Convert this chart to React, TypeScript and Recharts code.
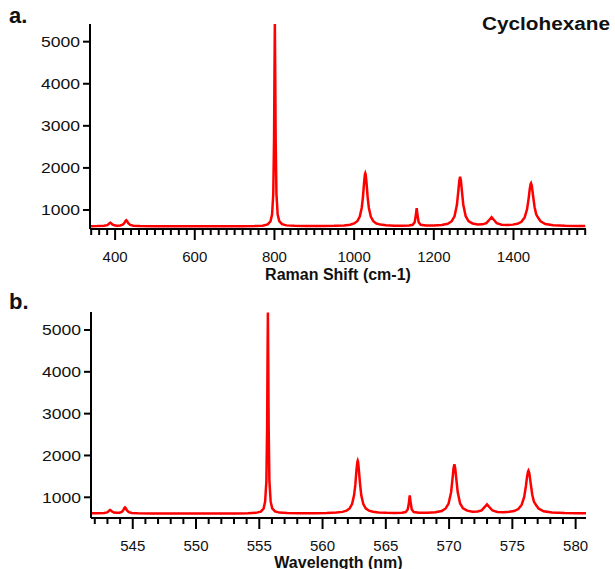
import { LineChart, Line, XAxis, YAxis } from "recharts";

// Cyclohexane Raman spectrum (532 nm excitation)
const ramanShift = [
  337, 355, 372, 380, 384, 386, 388, 390, 393, 398, 405, 413, 419, 423, 426, 428,
  430, 433, 438, 446, 462, 500, 560, 650, 720, 750, 770, 783, 790, 794, 797, 799,
  800, 801, 802, 803, 805, 808, 812, 819, 830, 850, 880, 920, 950, 975, 990, 1000,
  1008, 1014, 1019, 1022, 1025, 1027, 1028, 1029, 1031, 1034, 1037, 1042, 1048,
  1056, 1066, 1080, 1100, 1120, 1138, 1147, 1152, 1155, 1157, 1159, 1162, 1167,
  1180, 1200, 1220, 1235, 1245, 1252, 1258, 1262, 1264, 1266, 1268, 1270, 1274,
  1280, 1287, 1297, 1310, 1322, 1332, 1340, 1345, 1350, 1358, 1370, 1385, 1398,
  1410, 1420, 1428, 1434, 1438, 1441, 1443, 1444, 1446, 1449, 1453, 1457, 1462,
  1468, 1480, 1500, 1530, 1560, 1580,
];

const wavelength = [
  541.71, 542.24, 542.74, 542.97, 543.09, 543.15, 543.21, 543.27, 543.36, 543.51,
  543.71, 543.95, 544.13, 544.25, 544.33, 544.39, 544.45, 544.54, 544.69, 544.93,
  545.4, 546.54, 548.34, 551.05, 553.19, 554.11, 554.72, 555.12, 555.34, 555.46,
  555.56, 555.62, 555.65, 555.68, 555.71, 555.74, 555.8, 555.9, 556.02, 556.24,
  556.58, 557.2, 558.13, 559.38, 560.32, 561.1, 561.58, 561.89, 562.14, 562.33,
  562.49, 562.59, 562.68, 562.75, 562.78, 562.81, 562.87, 562.97, 563.06, 563.22,
  563.41, 563.67, 563.98, 564.43, 565.07, 565.71, 566.28, 566.57, 566.73, 566.83,
  566.89, 566.96, 567.05, 567.21, 567.63, 568.28, 568.92, 569.41, 569.73, 569.96,
  570.16, 570.29, 570.35, 570.42, 570.48, 570.55, 570.68, 570.87, 571.1, 571.43,
  571.85, 572.25, 572.57, 572.84, 573.0, 573.16, 573.43, 573.82, 574.32, 574.75,
  575.14, 575.47, 575.74, 575.94, 576.07, 576.17, 576.24, 576.27, 576.34, 576.44,
  576.57, 576.7, 576.87, 577.07, 577.47, 578.13, 579.14, 580.14, 580.82,
];

// counts, same order as the x arrays above
const intensity = [
  616, 617, 623, 639, 666, 686, 697, 686, 658, 635, 628, 632, 650, 687, 737, 757,
  737, 686, 644, 625, 618, 615, 612, 612, 614, 618, 628, 658, 730, 893, 1380, 2690,
  4220, 5420, 4220, 2690, 1380, 895, 735, 662, 634, 623, 620, 621, 624, 634, 651, 679,
  735, 838, 1047, 1295, 1654, 1846, 1875, 1846, 1654, 1295, 1047, 838, 735,
  679, 653, 637, 628, 626, 630, 648, 707, 879, 1043, 879, 708, 648,
  630, 631, 642, 673, 733, 850, 1123, 1498, 1698, 1787, 1700, 1500, 1125,
  852, 736, 680, 657, 659, 688, 775, 829, 773, 684, 650, 645, 652,
  672, 720, 822, 1015, 1270, 1510, 1620, 1637, 1577, 1350, 1067, 897, 815,
  730, 665, 637, 625, 620, 618,
];

const yTicks = [1000, 2000, 3000, 4000, 5000];
const ramanMajor = [400, 600, 800, 1000, 1200, 1400];
const ramanMinor = Array.from({ length: 63 }, (_, i) => 340 + i * 20);
const waveMajor = [545, 550, 555, 560, 565, 570, 575, 580];
const waveMinor = Array.from({ length: 39 }, (_, i) => 542 + i);

const ramanData = ramanShift.map((x, i) => ({ x, y: intensity[i] }));
const waveData = wavelength.map((x, i) => ({ x, y: intensity[i] }));

const FONT = "'Liberation Sans', Arial, sans-serif";

function XTick(props: any) {
  const { x, y, payload, majors } = props;
  const major = majors.includes(payload.value);
  return (
    <g>
      <line x1={x} x2={x} y1={y} y2={y + (major ? 11 : 6)} stroke="#000" strokeWidth={2} />
      {major && (
        <text x={x} y={y + 33} textAnchor="middle" fontSize={15} fontFamily={FONT} fill="#111">
          {payload.value}
        </text>
      )}
    </g>
  );
}

function YTick(props: any) {
  const { x, y, payload } = props;
  return (
    <g>
      <line x1={x - 7} x2={x} y1={y} y2={y} stroke="#000" strokeWidth={2} />
      <text
        x={x - 10}
        y={y + 5.5}
        textAnchor="end"
        fontSize={15}
        fontFamily={FONT}
        fill="#111"
        textLength={39}
        lengthAdjust="spacingAndGlyphs"
      >
        {payload.value}
      </text>
    </g>
  );
}

function axisTitle(text: string, dy: number) {
  return (p: any) => {
    const vb = p.viewBox;
    return (
      <text
        x={vb.x + vb.width / 2}
        y={vb.y + dy}
        textAnchor="middle"
        fontSize={16}
        fontWeight="bold"
        fontFamily={FONT}
        fill="#111"
      >
        {text}
      </text>
    );
  };
}

export default function App() {
  return (
    <div style={{ position: "absolute", left: 0, top: 0, width: 615, height: 569, background: "#fff" }}>
      <div style={{ position: "absolute", left: 0, top: 0 }}>
        <LineChart width={615} height={285} data={ramanData} margin={{ top: 24, right: 29, bottom: 0, left: 0 }}>
          <XAxis
            dataKey="x"
            type="number"
            domain={[337, 1582]}
            ticks={ramanMinor}
            interval={0}
            height={56}
            tickSize={0}
            tickMargin={0}
            tickLine={false}
            axisLine={{ stroke: "#000", strokeWidth: 2 }}
            tick={(p: any) => <XTick {...p} majors={ramanMajor} />}
            label={{ content: axisTitle("Raman Shift (cm-1)", 51) }}
          />
          <YAxis
            type="number"
            domain={[548, 5420]}
            ticks={yTicks}
            interval={0}
            width={90}
            tickSize={0}
            tickMargin={0}
            tickLine={false}
            axisLine={{ stroke: "#000", strokeWidth: 2 }}
            tick={(p: any) => <YTick {...p} />}
          />
          <Line type="linear" dataKey="y" stroke="#ff0000" strokeWidth={2.5} dot={false} isAnimationActive={false} />
        </LineChart>
      </div>
      <div style={{ position: "absolute", left: 0, top: 288 }}>
        <LineChart width={615} height={281} data={waveData} margin={{ top: 24, right: 29, bottom: 0, left: 0 }}>
          <XAxis
            dataKey="x"
            type="number"
            domain={[541.7, 580.8]}
            ticks={waveMinor}
            interval={0}
            height={51}
            tickSize={0}
            tickMargin={0}
            tickLine={false}
            axisLine={{ stroke: "#000", strokeWidth: 2 }}
            tick={(p: any) => <XTick {...p} majors={waveMajor} />}
            label={{ content: axisTitle("Wavelength (nm)", 49.5) }}
          />
          <YAxis
            type="number"
            domain={[505, 5430]}
            ticks={yTicks}
            interval={0}
            width={91}
            tickSize={0}
            tickMargin={0}
            tickLine={false}
            axisLine={{ stroke: "#000", strokeWidth: 2 }}
            tick={(p: any) => <YTick {...p} />}
          />
          <Line type="linear" dataKey="y" stroke="#ff0000" strokeWidth={2.5} dot={false} isAnimationActive={false} />
        </LineChart>
      </div>
      <svg width={615} height={569} style={{ position: "absolute", left: 0, top: 0, pointerEvents: "none" }}>
        <text x={9} y={22.5} fontSize={22} fontWeight="bold" fontFamily={FONT} fill="#111">a.</text>
        <text x={9} y={309} fontSize={22} fontWeight="bold" fontFamily={FONT} fill="#111">b.</text>
        <text
          x={610}
          y={29.5}
          textAnchor="end"
          fontSize={17.5}
          fontWeight="bold"
          fontFamily={FONT}
          fill="#111"
          textLength={128}
          lengthAdjust="spacingAndGlyphs"
        >
          Cyclohexane
        </text>
      </svg>
    </div>
  );
}
